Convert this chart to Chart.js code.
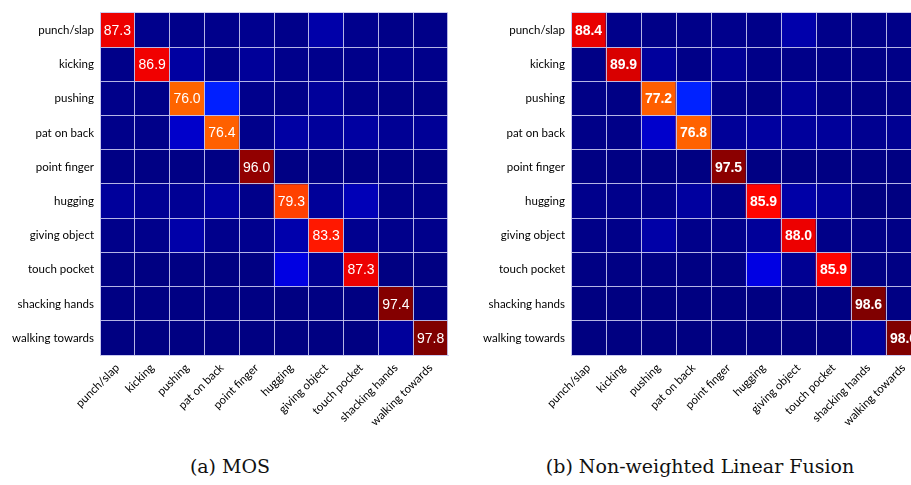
<!DOCTYPE html>
<html>
<head>
<meta charset="utf-8">
<script src="https://cdn.jsdelivr.net/npm/chart.js@4.4.0/dist/chart.umd.min.js"></script>
<style>
    html, body { margin: 0; padding: 0; width: 911px; height: 485px; overflow: hidden; background: #fff; }
    .box { position: absolute; top: 0; height: 440px; }
    .caption { position: absolute; top: 455px; font-family: "DejaVu Serif", serif; font-size: 19px; color: #111; text-align: center; white-space: nowrap; }
</style>
</head>
<body>
<div class="box" style="left:0; width:460px;"><canvas id="mosChart"></canvas></div>
<div class="box" style="left:460px; width:461px;"><canvas id="fusionChart"></canvas></div>
<div class="caption" style="left:80px; width:300px;">(a) MOS</div>
<div class="caption" style="left:500px; width:400px;">(b) Non-weighted Linear Fusion</div>
<script>
// class names (rows = true class, columns = predicted)
var categories = ["punch/slap", "kicking", "pushing", "pat on back", "point finger",
    "hugging", "giving object", "touch pocket", "shacking hands", "walking towards"];

// (a) MOS, percent
var mosMatrix = [
    [87.3, 1.2, 1.0, 1.1, 1.5, 1.0, 4.0, 1.3, 0.8, 0.8],
    [0.9, 86.9, 3.2, 1.0, 2.4, 1.1, 1.2, 1.0, 1.3, 1.0],
    [1.0, 0.8, 76.0, 15.2, 1.2, 0.9, 2.5, 1.0, 0.7, 0.7],
    [1.0, 0.9, 7.2, 76.4, 1.1, 3.4, 2.6, 3.2, 2.0, 2.2],
    [0.5, 0.4, 0.5, 0.4, 96.0, 0.4, 0.5, 0.4, 0.5, 0.4],
    [2.6, 2.0, 2.0, 3.4, 1.0, 79.3, 2.4, 5.3, 1.0, 1.0],
    [1.0, 1.1, 4.0, 1.2, 1.4, 4.3, 83.3, 1.5, 1.1, 1.1],
    [0.3, 0.2, 0.3, 0.2, 0.3, 9.4, 1.6, 87.3, 0.2, 0.2],
    [0.3, 0.3, 0.3, 0.3, 0.3, 0.2, 0.3, 0.2, 97.4, 0.4],
    [0.2, 0.2, 0.2, 0.2, 0.2, 0.2, 0.2, 0.2, 2.6, 97.8]
];

// (b) Non-weighted Linear Fusion, percent
var fusionMatrix = [
    [88.4, 1.0, 0.8, 0.9, 1.2, 0.9, 4.2, 1.0, 0.8, 0.8],
    [0.6, 89.9, 2.8, 0.8, 2.2, 0.8, 0.9, 0.7, 0.6, 0.7],
    [0.6, 0.5, 77.2, 15.6, 1.0, 0.5, 2.6, 0.8, 0.6, 0.6],
    [0.8, 0.8, 7.4, 76.8, 2.4, 3.0, 2.8, 2.6, 1.6, 1.8],
    [0.3, 0.3, 0.3, 0.2, 97.5, 0.3, 0.3, 0.3, 0.3, 0.2],
    [1.2, 1.1, 1.2, 3.0, 0.8, 85.9, 3.8, 2.8, 0.1, 0.1],
    [0.8, 0.9, 3.8, 1.0, 1.0, 2.5, 88.0, 0.8, 0.6, 0.6],
    [0.4, 0.4, 0.4, 0.3, 0.4, 9.6, 1.8, 85.9, 0.4, 0.4],
    [0.1, 0.1, 0.1, 0.1, 0.1, 0.2, 0.1, 0.2, 98.6, 0.4],
    [0.1, 0.1, 0.1, 0.1, 0.1, 0.1, 0.1, 0.1, 2.6, 98.6]
];

var labelFont = { family: "Lato", size: 11.5 };
var gridColor = "rgba(200,200,240,0.9)";

// matlab style jet colormap, t in 0..1
function jet(t) {
    function c(v) { return Math.round(255 * Math.max(0, Math.min(1, v))); }
    var r = Math.min(4 * t - 1.5, -4 * t + 4.5);
    var g = Math.min(4 * t - 0.5, -4 * t + 3.5);
    var b = Math.min(4 * t + 0.5, -4 * t + 2.5);
    return "rgb(" + c(r) + "," + c(g) + "," + c(b) + ")";
}

// write the diagonal values into the cells
var cellText = {
    id: "cellText",
    afterDraw: function(chart, args, opts) {
        var ctx = chart.ctx;
        ctx.save();
        ctx.fillStyle = "#fff";
        ctx.textAlign = "center";
        ctx.textBaseline = "middle";
        ctx.font = opts.weight + " 14px 'Liberation Sans', Arial, sans-serif";
        chart.data.datasets.forEach(function(ds, r) {
            var el = chart.getDatasetMeta(r).data[r];
            var p = el.getCenterPoint();
            ctx.fillText(ds.values[r].toFixed(1), p.x, p.y + 1);
        });
        ctx.restore();
    }
};

function makeMatrix(canvasId, matrix, yWidth, padRight, weight) {
    var vmax = 0;
    matrix.forEach(function(row) { row.forEach(function(v) { vmax = Math.max(vmax, v); }); });
    // one stacked dataset per true class, every cell is one unit high
    var datasets = matrix.map(function(row, r) {
        return {
            label: categories[r],
            values: row,
            data: row.map(function() { return 1; }),
            backgroundColor: row.map(function(v) { return jet(v / vmax); }),
            borderWidth: 0,
            barPercentage: 1.0,
            categoryPercentage: 1.0
        };
    });
    return new Chart(document.getElementById(canvasId), {
        type: "bar",
        data: { labels: categories, datasets: datasets },
        plugins: [cellText],
        options: {
            responsive: true,
            maintainAspectRatio: false,
            animation: false,
            layout: { padding: { top: 7, right: padRight, bottom: 0, left: 0 } },
            plugins: {
                legend: { display: false },
                tooltip: { enabled: false },
                cellText: { weight: weight }
            },
            scales: {
                x: {
                    stacked: true,
                    grid: { color: gridColor, lineWidth: 1, drawTicks: false, offset: true, z: 1 },
                    border: { color: gridColor, z: 1 },
                    ticks: { color: "#000", font: labelFont, minRotation: 45, maxRotation: 45, padding: 6, autoSkip: false },
                    afterFit: function(scale) { scale.height = 85; }
                },
                y: {
                    stacked: true,
                    reverse: true,
                    min: 0,
                    max: 10,
                    grid: { color: gridColor, lineWidth: 1, drawTicks: false, z: 1 },
                    border: { color: gridColor, z: 1 },
                    afterBuildTicks: function(scale) {
                        scale.ticks = categories.map(function(c, i) { return { value: i }; }).concat([{ value: 10 }]);
                    },
                    ticks: {
                        color: "#000",
                        font: labelFont,
                        padding: 6,
                        labelOffset: 17.4,
                        callback: function(v) { return categories[v] || ""; }
                    },
                    afterFit: function(scale) { scale.width = yWidth; }
                }
            }
        }
    });
}

var mosChart = makeMatrix("mosChart", mosMatrix, 100, 12, "normal");
var fusionChart = makeMatrix("fusionChart", fusionMatrix, 111, 0, "bold");
</script>
</body>
</html>
